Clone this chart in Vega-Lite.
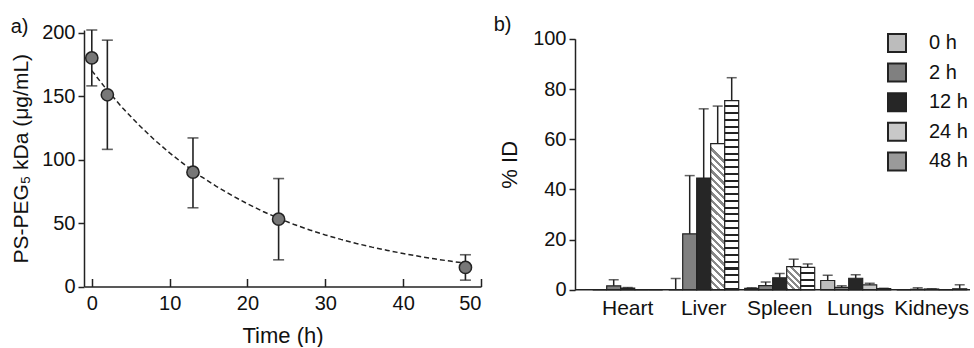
{
  "$schema": "https://vega.github.io/schema/vega-lite/v6.json",
  "padding": {"left": 10, "top": 14, "right": 0, "bottom": 0},
  "spacing": 11,
  "resolve": {"scale": {"fill": "independent"}, "legend": {"fill": "independent"}},
  "config": {
    "font": "Liberation Sans",
    "view": {"stroke": null},
    "axis": {
      "labelFont": "Liberation Sans", "titleFont": "Liberation Sans",
      "labelColor": "#111", "titleColor": "#111",
      "domainColor": "#222", "tickColor": "#222",
      "domainWidth": 1.5, "tickWidth": 1.5, "grid": false,
      "labelFontSize": 20, "titleFontSize": 21, "titleFontWeight": "normal"
    },
    "title": {"font": "Liberation Sans", "fontSize": 20, "fontWeight": "normal", "anchor": "start", "frame": "bounds", "color": "#111"}
  },
  "datasets": {
    "pk": [
      {"t": 0, "c": 180, "lo": 158, "hi": 202},
      {"t": 2, "c": 151, "lo": 108, "hi": 194},
      {"t": 13, "c": 90, "lo": 62, "hi": 117},
      {"t": 24, "c": 53, "lo": 21, "hi": 85},
      {"t": 48, "c": 15, "lo": 5, "hi": 25}
    ],
    "fit": [
      {"t": 0, "c": 170}, {"t": 2, "c": 154.4}, {"t": 4, "c": 140.3}, {"t": 6, "c": 127.5},
      {"t": 8, "c": 115.8}, {"t": 10, "c": 105.2}, {"t": 12, "c": 95.6}, {"t": 14, "c": 86.8},
      {"t": 16, "c": 78.9}, {"t": 18, "c": 71.7}, {"t": 20, "c": 65.1}, {"t": 22, "c": 59.1},
      {"t": 24, "c": 53.7}, {"t": 26, "c": 48.8}, {"t": 28, "c": 44.5}, {"t": 30, "c": 40.6},
      {"t": 32, "c": 37.1}, {"t": 34, "c": 33.9}, {"t": 36, "c": 31.0}, {"t": 38, "c": 28.4},
      {"t": 40, "c": 26.0}, {"t": 42, "c": 23.8}, {"t": 44, "c": 21.8}, {"t": 46, "c": 20.0},
      {"t": 48, "c": 18.3}
    ],
    "bio": [
      {"organ": "Heart", "time": "0 h", "v": 0},
      {"organ": "Heart", "time": "2 h", "v": 1.6, "hi": 4.0},
      {"organ": "Heart", "time": "12 h", "v": 0.7, "hi": 0.9},
      {"organ": "Heart", "time": "24 h", "v": 0},
      {"organ": "Heart", "time": "48 h", "v": 0},
      {"organ": "Liver", "time": "0 h", "v": 0, "hi": 4.5},
      {"organ": "Liver", "time": "2 h", "v": 22.3, "hi": 45.5},
      {"organ": "Liver", "time": "12 h", "v": 44.5, "hi": 72.1},
      {"organ": "Liver", "time": "24 h", "v": 58.2, "hi": 73.2},
      {"organ": "Liver", "time": "48 h", "v": 75.4, "hi": 84.5},
      {"organ": "Spleen", "time": "0 h", "v": 0.6, "hi": 0.8},
      {"organ": "Spleen", "time": "2 h", "v": 1.7, "hi": 3.1},
      {"organ": "Spleen", "time": "12 h", "v": 4.8, "hi": 6.5},
      {"organ": "Spleen", "time": "24 h", "v": 9.2, "hi": 12.2},
      {"organ": "Spleen", "time": "48 h", "v": 8.9, "hi": 10.3},
      {"organ": "Lungs", "time": "0 h", "v": 3.7, "hi": 5.8},
      {"organ": "Lungs", "time": "2 h", "v": 1.0, "hi": 1.6},
      {"organ": "Lungs", "time": "12 h", "v": 4.6, "hi": 6.0},
      {"organ": "Lungs", "time": "24 h", "v": 2.0, "hi": 2.6},
      {"organ": "Lungs", "time": "48 h", "v": 0.5, "hi": 0.6},
      {"organ": "Kidneys", "time": "0 h", "v": 0},
      {"organ": "Kidneys", "time": "2 h", "v": 0.2, "hi": 0.8},
      {"organ": "Kidneys", "time": "12 h", "v": 0.3, "hi": 0.4},
      {"organ": "Kidneys", "time": "24 h", "v": 0},
      {"organ": "Kidneys", "time": "48 h", "v": 0.4, "hi": 2.0}
    ],
    "base": [{"y": 0}]
  },
  "hconcat": [
    {
      "width": 397,
      "height": 256.5,
      "title": {"text": "a)", "offset": -14},
      "layer": [
        {
          "data": {"name": "pk"},
          "mark": {"type": "rule", "color": "#222", "strokeWidth": 1.6},
          "encoding": {
            "x": {"field": "t", "type": "quantitative",
                  "scale": {"domain": [-1, 50], "nice": false, "zero": false},
                  "axis": {"title": "Time (h)", "values": [0, 10, 20, 30, 40, 50], "tickSize": -8, "labelPadding": 15, "labelFontSize": 20, "titlePadding": 12, "titleFontSize": 22}},
            "y": {"field": "lo", "type": "quantitative",
                  "scale": {"domain": [0, 202], "nice": false},
                  "axis": {"title": "PS-PEG₅ kDa (μg/mL)", "values": [0, 50, 100, 150, 200], "tickSize": 6, "labelPadding": 3, "titlePadding": 10, "titleFontSize": 21}},
            "y2": {"field": "hi"}
          }
        },
        {
          "data": {"name": "pk"},
          "mark": {"type": "tick", "orient": "horizontal", "size": 11, "thickness": 1.6, "color": "#222"},
          "encoding": {"x": {"field": "t", "type": "quantitative"}, "y": {"field": "lo", "type": "quantitative"}}
        },
        {
          "data": {"name": "pk"},
          "mark": {"type": "tick", "orient": "horizontal", "size": 11, "thickness": 1.6, "color": "#222"},
          "encoding": {"x": {"field": "t", "type": "quantitative"}, "y": {"field": "hi", "type": "quantitative"}}
        },
        {
          "data": {"name": "fit"},
          "mark": {"type": "line", "color": "#222", "strokeWidth": 1.5, "strokeDash": [5, 3]},
          "encoding": {"x": {"field": "t", "type": "quantitative"}, "y": {"field": "c", "type": "quantitative"}}
        },
        {
          "data": {"name": "pk"},
          "mark": {"type": "point", "shape": "circle", "filled": true, "size": 150, "color": "#777", "stroke": "#222", "strokeWidth": 1.5, "opacity": 1},
          "encoding": {"x": {"field": "t", "type": "quantitative"}, "y": {"field": "c", "type": "quantitative"}}
        }
      ]
    },
    {
      "width": 395,
      "height": 259.8,
      "title": {"text": "b)", "offset": -6, "dx": -5},
      "layer": [
        {
          "data": {"name": "bio"},
          "mark": {"type": "bar", "stroke": "#222", "strokeWidth": 1.2},
          "encoding": {
            "x": {"field": "organ", "type": "nominal", "sort": ["Heart", "Liver", "Spleen", "Lungs", "Kidneys"],
                  "scale": {"range": [17.7, 391.7], "paddingInner": 0.079, "paddingOuter": 0},
                  "axis": {"title": null, "domain": false, "ticks": false, "labelAngle": 0, "labelPadding": 8, "labelFontSize": 21}},
            "xOffset": {"field": "time", "type": "nominal", "sort": ["0 h", "2 h", "12 h", "24 h", "48 h"],
                        "scale": {"paddingInner": 0, "paddingOuter": 0}},
            "y": {"field": "v", "type": "quantitative",
                  "scale": {"domain": [0, 100], "nice": false, "range": [259.8, 8.8]},
                  "axis": {"title": "% ID", "values": [0, 20, 40, 60, 80, 100], "tickSize": 6, "labelPadding": 3, "titlePadding": 11, "titleFontSize": 22}},
            "fill": {
              "field": "time", "type": "nominal", "sort": ["0 h", "2 h", "12 h", "24 h", "48 h"],
              "scale": {
                "domain": ["0 h", "2 h", "12 h", "24 h", "48 h"],
                "range": ["#bcbcbc", "#808080", "#262626", "#c8c8c8", "#9a9a9a"]
              },
              "condition": [
                {"test": "datum.time === '24 h' && datum.organ === 'Liver'",
                 "value": {"gradient": "linear", "x1": 0, "y1": 1, "x2": 0.0955, "y2": 0, "stops": [
                    {"offset": 0, "color": "#888"}, {"offset": 0.0225, "color": "#888"}, {"offset": 0.0225, "color": "#fff"}, {"offset": 0.05, "color": "#fff"},
                    {"offset": 0.05, "color": "#888"}, {"offset": 0.0725, "color": "#888"}, {"offset": 0.0725, "color": "#fff"}, {"offset": 0.1, "color": "#fff"},
                    {"offset": 0.1, "color": "#888"}, {"offset": 0.1225, "color": "#888"}, {"offset": 0.1225, "color": "#fff"}, {"offset": 0.15, "color": "#fff"},
                    {"offset": 0.15, "color": "#888"}, {"offset": 0.1725, "color": "#888"}, {"offset": 0.1725, "color": "#fff"}, {"offset": 0.2, "color": "#fff"},
                    {"offset": 0.2, "color": "#888"}, {"offset": 0.2225, "color": "#888"}, {"offset": 0.2225, "color": "#fff"}, {"offset": 0.25, "color": "#fff"},
                    {"offset": 0.25, "color": "#888"}, {"offset": 0.2725, "color": "#888"}, {"offset": 0.2725, "color": "#fff"}, {"offset": 0.3, "color": "#fff"},
                    {"offset": 0.3, "color": "#888"}, {"offset": 0.3225, "color": "#888"}, {"offset": 0.3225, "color": "#fff"}, {"offset": 0.35, "color": "#fff"},
                    {"offset": 0.35, "color": "#888"}, {"offset": 0.3725, "color": "#888"}, {"offset": 0.3725, "color": "#fff"}, {"offset": 0.4, "color": "#fff"},
                    {"offset": 0.4, "color": "#888"}, {"offset": 0.4225, "color": "#888"}, {"offset": 0.4225, "color": "#fff"}, {"offset": 0.45, "color": "#fff"},
                    {"offset": 0.45, "color": "#888"}, {"offset": 0.4725, "color": "#888"}, {"offset": 0.4725, "color": "#fff"}, {"offset": 0.5, "color": "#fff"},
                    {"offset": 0.5, "color": "#888"}, {"offset": 0.5225, "color": "#888"}, {"offset": 0.5225, "color": "#fff"}, {"offset": 0.55, "color": "#fff"},
                    {"offset": 0.55, "color": "#888"}, {"offset": 0.5725, "color": "#888"}, {"offset": 0.5725, "color": "#fff"}, {"offset": 0.6, "color": "#fff"},
                    {"offset": 0.6, "color": "#888"}, {"offset": 0.6225, "color": "#888"}, {"offset": 0.6225, "color": "#fff"}, {"offset": 0.65, "color": "#fff"},
                    {"offset": 0.65, "color": "#888"}, {"offset": 0.6725, "color": "#888"}, {"offset": 0.6725, "color": "#fff"}, {"offset": 0.7, "color": "#fff"},
                    {"offset": 0.7, "color": "#888"}, {"offset": 0.7225, "color": "#888"}, {"offset": 0.7225, "color": "#fff"}, {"offset": 0.75, "color": "#fff"},
                    {"offset": 0.75, "color": "#888"}, {"offset": 0.7725, "color": "#888"}, {"offset": 0.7725, "color": "#fff"}, {"offset": 0.8, "color": "#fff"},
                    {"offset": 0.8, "color": "#888"}, {"offset": 0.8225, "color": "#888"}, {"offset": 0.8225, "color": "#fff"}, {"offset": 0.85, "color": "#fff"},
                    {"offset": 0.85, "color": "#888"}, {"offset": 0.8725, "color": "#888"}, {"offset": 0.8725, "color": "#fff"}, {"offset": 0.9, "color": "#fff"},
                    {"offset": 0.9, "color": "#888"}, {"offset": 0.9225, "color": "#888"}, {"offset": 0.9225, "color": "#fff"}, {"offset": 0.95, "color": "#fff"},
                    {"offset": 0.95, "color": "#888"}, {"offset": 0.9725, "color": "#888"}, {"offset": 0.9725, "color": "#fff"}, {"offset": 1, "color": "#fff"}
                 ]}},
                {"test": "datum.time === '24 h' && datum.organ === 'Spleen'",
                 "value": {"gradient": "linear", "x1": 0, "y1": 1, "x2": 0.609, "y2": 0, "stops": [
                    {"offset": 0, "color": "#888"}, {"offset": 0.09, "color": "#888"}, {"offset": 0.09, "color": "#fff"}, {"offset": 0.2, "color": "#fff"},
                    {"offset": 0.2, "color": "#888"}, {"offset": 0.29, "color": "#888"}, {"offset": 0.29, "color": "#fff"}, {"offset": 0.4, "color": "#fff"},
                    {"offset": 0.4, "color": "#888"}, {"offset": 0.49, "color": "#888"}, {"offset": 0.49, "color": "#fff"}, {"offset": 0.6, "color": "#fff"},
                    {"offset": 0.6, "color": "#888"}, {"offset": 0.69, "color": "#888"}, {"offset": 0.69, "color": "#fff"}, {"offset": 0.8, "color": "#fff"},
                    {"offset": 0.8, "color": "#888"}, {"offset": 0.89, "color": "#888"}, {"offset": 0.89, "color": "#fff"}, {"offset": 1, "color": "#fff"}
                 ]}},
                {"test": "datum.time === '48 h' && datum.organ === 'Liver'",
                 "value": {"gradient": "linear", "x1": 0, "y1": 0, "x2": 0, "y2": 1, "stops": [
                    {"offset": 0, "color": "#fff"}, {"offset": 0.025, "color": "#fff"}, {"offset": 0.025, "color": "#222"}, {"offset": 0.0357, "color": "#222"},
                    {"offset": 0.0357, "color": "#fff"}, {"offset": 0.0607, "color": "#fff"}, {"offset": 0.0607, "color": "#222"}, {"offset": 0.0714, "color": "#222"},
                    {"offset": 0.0714, "color": "#fff"}, {"offset": 0.0964, "color": "#fff"}, {"offset": 0.0964, "color": "#222"}, {"offset": 0.1071, "color": "#222"},
                    {"offset": 0.1071, "color": "#fff"}, {"offset": 0.1321, "color": "#fff"}, {"offset": 0.1321, "color": "#222"}, {"offset": 0.1429, "color": "#222"},
                    {"offset": 0.1429, "color": "#fff"}, {"offset": 0.1679, "color": "#fff"}, {"offset": 0.1679, "color": "#222"}, {"offset": 0.1786, "color": "#222"},
                    {"offset": 0.1786, "color": "#fff"}, {"offset": 0.2036, "color": "#fff"}, {"offset": 0.2036, "color": "#222"}, {"offset": 0.2143, "color": "#222"},
                    {"offset": 0.2143, "color": "#fff"}, {"offset": 0.2393, "color": "#fff"}, {"offset": 0.2393, "color": "#222"}, {"offset": 0.25, "color": "#222"},
                    {"offset": 0.25, "color": "#fff"}, {"offset": 0.275, "color": "#fff"}, {"offset": 0.275, "color": "#222"}, {"offset": 0.2857, "color": "#222"},
                    {"offset": 0.2857, "color": "#fff"}, {"offset": 0.3107, "color": "#fff"}, {"offset": 0.3107, "color": "#222"}, {"offset": 0.3214, "color": "#222"},
                    {"offset": 0.3214, "color": "#fff"}, {"offset": 0.3464, "color": "#fff"}, {"offset": 0.3464, "color": "#222"}, {"offset": 0.3571, "color": "#222"},
                    {"offset": 0.3571, "color": "#fff"}, {"offset": 0.3821, "color": "#fff"}, {"offset": 0.3821, "color": "#222"}, {"offset": 0.3929, "color": "#222"},
                    {"offset": 0.3929, "color": "#fff"}, {"offset": 0.4179, "color": "#fff"}, {"offset": 0.4179, "color": "#222"}, {"offset": 0.4286, "color": "#222"},
                    {"offset": 0.4286, "color": "#fff"}, {"offset": 0.4536, "color": "#fff"}, {"offset": 0.4536, "color": "#222"}, {"offset": 0.4643, "color": "#222"},
                    {"offset": 0.4643, "color": "#fff"}, {"offset": 0.4893, "color": "#fff"}, {"offset": 0.4893, "color": "#222"}, {"offset": 0.5, "color": "#222"},
                    {"offset": 0.5, "color": "#fff"}, {"offset": 0.525, "color": "#fff"}, {"offset": 0.525, "color": "#222"}, {"offset": 0.5357, "color": "#222"},
                    {"offset": 0.5357, "color": "#fff"}, {"offset": 0.5607, "color": "#fff"}, {"offset": 0.5607, "color": "#222"}, {"offset": 0.5714, "color": "#222"},
                    {"offset": 0.5714, "color": "#fff"}, {"offset": 0.5964, "color": "#fff"}, {"offset": 0.5964, "color": "#222"}, {"offset": 0.6071, "color": "#222"},
                    {"offset": 0.6071, "color": "#fff"}, {"offset": 0.6321, "color": "#fff"}, {"offset": 0.6321, "color": "#222"}, {"offset": 0.6429, "color": "#222"},
                    {"offset": 0.6429, "color": "#fff"}, {"offset": 0.6679, "color": "#fff"}, {"offset": 0.6679, "color": "#222"}, {"offset": 0.6786, "color": "#222"},
                    {"offset": 0.6786, "color": "#fff"}, {"offset": 0.7036, "color": "#fff"}, {"offset": 0.7036, "color": "#222"}, {"offset": 0.7143, "color": "#222"},
                    {"offset": 0.7143, "color": "#fff"}, {"offset": 0.7393, "color": "#fff"}, {"offset": 0.7393, "color": "#222"}, {"offset": 0.75, "color": "#222"},
                    {"offset": 0.75, "color": "#fff"}, {"offset": 0.775, "color": "#fff"}, {"offset": 0.775, "color": "#222"}, {"offset": 0.7857, "color": "#222"},
                    {"offset": 0.7857, "color": "#fff"}, {"offset": 0.8107, "color": "#fff"}, {"offset": 0.8107, "color": "#222"}, {"offset": 0.8214, "color": "#222"},
                    {"offset": 0.8214, "color": "#fff"}, {"offset": 0.8464, "color": "#fff"}, {"offset": 0.8464, "color": "#222"}, {"offset": 0.8571, "color": "#222"},
                    {"offset": 0.8571, "color": "#fff"}, {"offset": 0.8821, "color": "#fff"}, {"offset": 0.8821, "color": "#222"}, {"offset": 0.8929, "color": "#222"},
                    {"offset": 0.8929, "color": "#fff"}, {"offset": 0.9179, "color": "#fff"}, {"offset": 0.9179, "color": "#222"}, {"offset": 0.9286, "color": "#222"},
                    {"offset": 0.9286, "color": "#fff"}, {"offset": 0.9536, "color": "#fff"}, {"offset": 0.9536, "color": "#222"}, {"offset": 0.9643, "color": "#222"},
                    {"offset": 0.9643, "color": "#fff"}, {"offset": 0.9893, "color": "#fff"}, {"offset": 0.9893, "color": "#222"}, {"offset": 1, "color": "#222"}
                 ]}},
                {"test": "datum.time === '48 h' && datum.organ === 'Spleen'",
                 "value": {"gradient": "linear", "x1": 0, "y1": 0, "x2": 0, "y2": 1, "stops": [
                    {"offset": 0, "color": "#fff"}, {"offset": 0.22, "color": "#fff"}, {"offset": 0.22, "color": "#222"}, {"offset": 0.31, "color": "#222"},
                    {"offset": 0.31, "color": "#fff"}, {"offset": 0.5, "color": "#fff"}, {"offset": 0.5, "color": "#222"}, {"offset": 0.59, "color": "#222"},
                    {"offset": 0.59, "color": "#fff"}, {"offset": 0.78, "color": "#fff"}, {"offset": 0.78, "color": "#222"}, {"offset": 0.87, "color": "#222"},
                    {"offset": 0.87, "color": "#fff"}, {"offset": 1, "color": "#fff"}
                 ]}}
              ],
              "legend": {
                "orient": "none", "legendX": 312, "legendY": 3, "title": null,
                "symbolType": "square", "symbolSize": 324, "symbolStrokeColor": "#222", "symbolStrokeWidth": 2,
                "labelFont": "Liberation Sans", "labelFontSize": 20, "labelColor": "#111", "labelOffset": 22, "rowPadding": 3.6
              }
            }
          }
        },
        {
          "data": {"name": "bio"},
          "mark": {"type": "rule", "color": "#222", "strokeWidth": 1.5},
          "encoding": {
            "x": {"field": "organ", "type": "nominal", "sort": ["Heart", "Liver", "Spleen", "Lungs", "Kidneys"]},
            "xOffset": {"field": "time", "type": "nominal", "sort": ["0 h", "2 h", "12 h", "24 h", "48 h"]},
            "y": {"field": "v", "type": "quantitative"},
            "y2": {"field": "hi"}
          }
        },
        {
          "data": {"name": "bio"},
          "mark": {"type": "tick", "orient": "horizontal", "size": 10, "thickness": 1.5, "color": "#222"},
          "encoding": {
            "x": {"field": "organ", "type": "nominal", "sort": ["Heart", "Liver", "Spleen", "Lungs", "Kidneys"]},
            "xOffset": {"field": "time", "type": "nominal", "sort": ["0 h", "2 h", "12 h", "24 h", "48 h"]},
            "y": {"field": "hi", "type": "quantitative"}
          }
        },
        {
          "data": {"name": "base"},
          "mark": {"type": "rule", "color": "#222", "strokeWidth": 1.5},
          "encoding": {"y": {"field": "y", "type": "quantitative"}}
        }
      ]
    }
  ]
}
